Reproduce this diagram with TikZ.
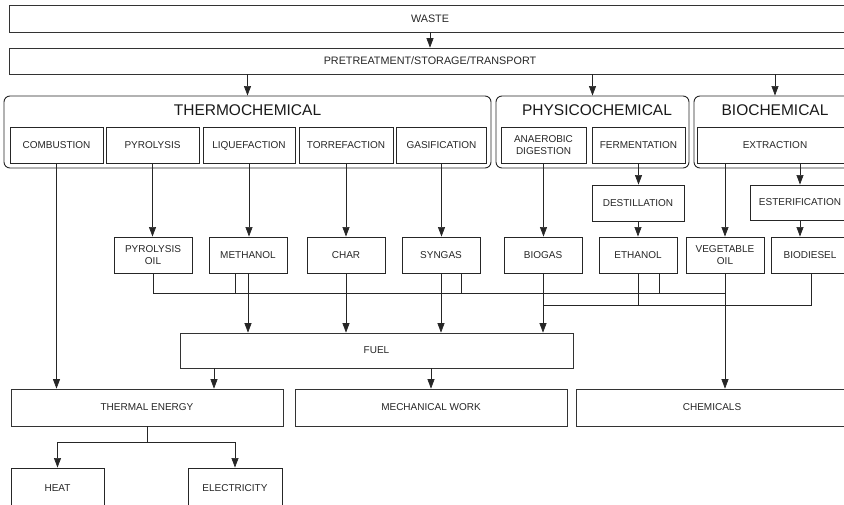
\documentclass[tikz,border=0pt]{standalone}
\usepackage{fontspec}
\setmainfont{Liberation Sans}
\usetikzlibrary{arrows.meta}
\begin{document}
\begin{tikzpicture}[x=1pt, y=-1pt,
   sz/.style 2 args={minimum width=#1pt, minimum height=#2pt},
   box/.style={draw=black!85, line width=0.9pt, inner sep=1pt, align=center,
      text=black!85, font=\fontsize{10}{12.5}\selectfont},
   wide/.style={draw=black!80, line width=0.7pt, inner sep=1pt,
      text=black!85, font=\fontsize{10.8}{13}\selectfont},
   group/.style={draw=black!85, line width=0.9pt, rounded corners=6pt},
   title/.style={text=black!90, font=\fontsize{15.5}{18}\selectfont},
   arr/.style={draw=black!85, line width=0.65pt, -{Triangle[length=9.5pt,width=7pt]}},
   wire/.style={draw=black!85, line width=0.65pt}]

\useasboundingbox (0,0) rectangle (844,505);

\node[wide, sz={842}{27}] (waste) at (430,18.5) {WASTE};
\node[wide, sz={842}{26}] (pre) at (430,61) {PRETREATMENT/STORAGE/TRANSPORT};

\node[group, sz={487}{72}] (thermo) at (247.5,132) {};
\node[group, sz={193}{72}] (physico) at (592.5,132) {};
\node[group, sz={162}{72}] (bio) at (775,132) {};
\node[title] (thermot) at (247.5,110) {THERMOCHEMICAL};
\node[title] (physicot) at (597,110) {PHYSICOCHEMICAL};
\node[title] (biot) at (775,110) {BIOCHEMICAL};

\node[box, sz={93}{36}] (comb) at (56.5,145) {COMBUSTION};
\node[box, sz={93}{36}] (pyro) at (152.5,145) {PYROLYSIS};
\node[box, sz={92}{36}, text depth=0pt] (liq) at (249,145) {LIQUEFACTION};
\node[box, sz={94}{36}] (torr) at (346,145) {TORREFACTION};
\node[box, sz={90}{36}] (gas) at (441.5,145) {GASIFICATION};
\node[box, sz={85}{36}] (anaer) at (543.5,145) {ANAEROBIC\\DIGESTION};
\node[box, sz={93}{36}] (ferm) at (638.5,145) {FERMENTATION};
\node[box, sz={156}{36}] (extr) at (775,145) {EXTRACTION};

\node[box, sz={92}{36}] (dest) at (638,203) {DESTILLATION};
\node[box, sz={100}{35}] (ester) at (800,202.5) {ESTERIFICATION};

\node[box, sz={78}{36}] (pyoil) at (153,255) {PYROLYSIS\\OIL};
\node[box, sz={78}{36}] (meth) at (248,255) {METHANOL};
\node[box, sz={78}{36}] (char) at (346,255) {CHAR};
\node[box, sz={78}{36}] (syn) at (441,255) {SYNGAS};
\node[box, sz={78}{36}] (biogas) at (543,255) {BIOGAS};
\node[box, sz={78}{36}] (eth) at (638,255) {ETHANOL};
\node[box, sz={78}{36}] (veg) at (725,255) {VEGETABLE\\OIL};
\node[box, sz={78}{36}] (biod) at (810,255) {BIODIESEL};

\node[wide, sz={393}{35}, font=\fontsize{10}{12}\selectfont] (fuel) at (376.5,350.5) {FUEL};

\node[wide, sz={272}{37}, font=\fontsize{10}{12}\selectfont] (thermal) at (147,407.5) {THERMAL ENERGY};
\node[wide, sz={272}{37}, font=\fontsize{10}{12}\selectfont] (mech) at (431,407.5) {MECHANICAL WORK};
\node[wide, sz={272}{37}, font=\fontsize{10}{12}\selectfont] (chem) at (712,407.5) {CHEMICALS};

\node[box, sz={93}{40}] (heat) at (57.5,488) {HEAT};
\node[box, sz={94}{40}] (elec) at (235,488) {ELECTRICITY};

\coordinate (bus1) at (0,293);
\coordinate (bus2) at (0,305);
\coordinate (split) at (0,442);

\draw[arr] (waste) -- (pre);
\draw[arr] (thermo.north |- pre.south) -- (thermo.north);
\draw[arr] (physico.north |- pre.south) -- (physico.north);
\draw[arr] (bio.north |- pre.south) -- (bio.north);

\draw[arr] (comb.south) -- (comb.south |- thermal.north);
\draw[arr] (pyro.south) -- (pyro.south |- pyoil.north);
\draw[arr] (liq.south) -- (liq.south |- meth.north);
\draw[arr] (torr.south) -- (torr.south |- char.north);
\draw[arr] (gas.south) -- (gas.south |- syn.north);
\draw[arr] (anaer.south) -- (anaer.south |- biogas.north);
\draw[arr] (ferm.south) -- (ferm.south |- dest.north);
\draw[arr] (dest.south) -- (dest.south |- eth.north);
\draw[arr] (veg.north |- extr.south) -- (veg.north);
\draw[arr] (ester.north |- extr.south) -- (ester.north);
\draw[arr] (ester.south) -- (ester.south |- biod.north);

\draw[wire] (pyoil.south) -- (pyoil.south |- bus1) -- (veg.south |- bus1);
\draw[wire] ([xshift=-13pt]meth.south) -- ([xshift=-13pt]meth.south |- bus1);
\draw[wire] ([xshift=20pt]syn.south) -- ([xshift=20pt]syn.south |- bus1);
\draw[wire] ([xshift=21pt]eth.south) -- ([xshift=21pt]eth.south |- bus1);
\draw[wire] (biogas.south |- bus2) -- ([xshift=1pt]biod.south |- bus2) -- ([xshift=1pt]biod.south);
\draw[wire] (eth.south) -- (eth.south |- bus2);

\draw[arr] (meth.south) -- (meth.south |- fuel.north);
\draw[arr] (char.south) -- (char.south |- fuel.north);
\draw[arr] (syn.south) -- (syn.south |- fuel.north);
\draw[arr] (biogas.south) -- (biogas.south |- fuel.north);
\draw[arr] (veg.south) -- (veg.south |- chem.north);

\draw[arr] ([xshift=-162.5pt]fuel.south) -- ([xshift=-162.5pt]fuel.south |- thermal.north);
\draw[arr] (mech.north |- fuel.south) -- (mech.north);

\draw[wire] (thermal.south) -- (thermal.south |- split);
\draw[arr] (heat.north |- split) -- (heat.north);
\draw[arr] (elec.north |- split) -- (elec.north);
\draw[wire] (heat.north |- split) -- (elec.north |- split);

\end{tikzpicture}
\end{document}
